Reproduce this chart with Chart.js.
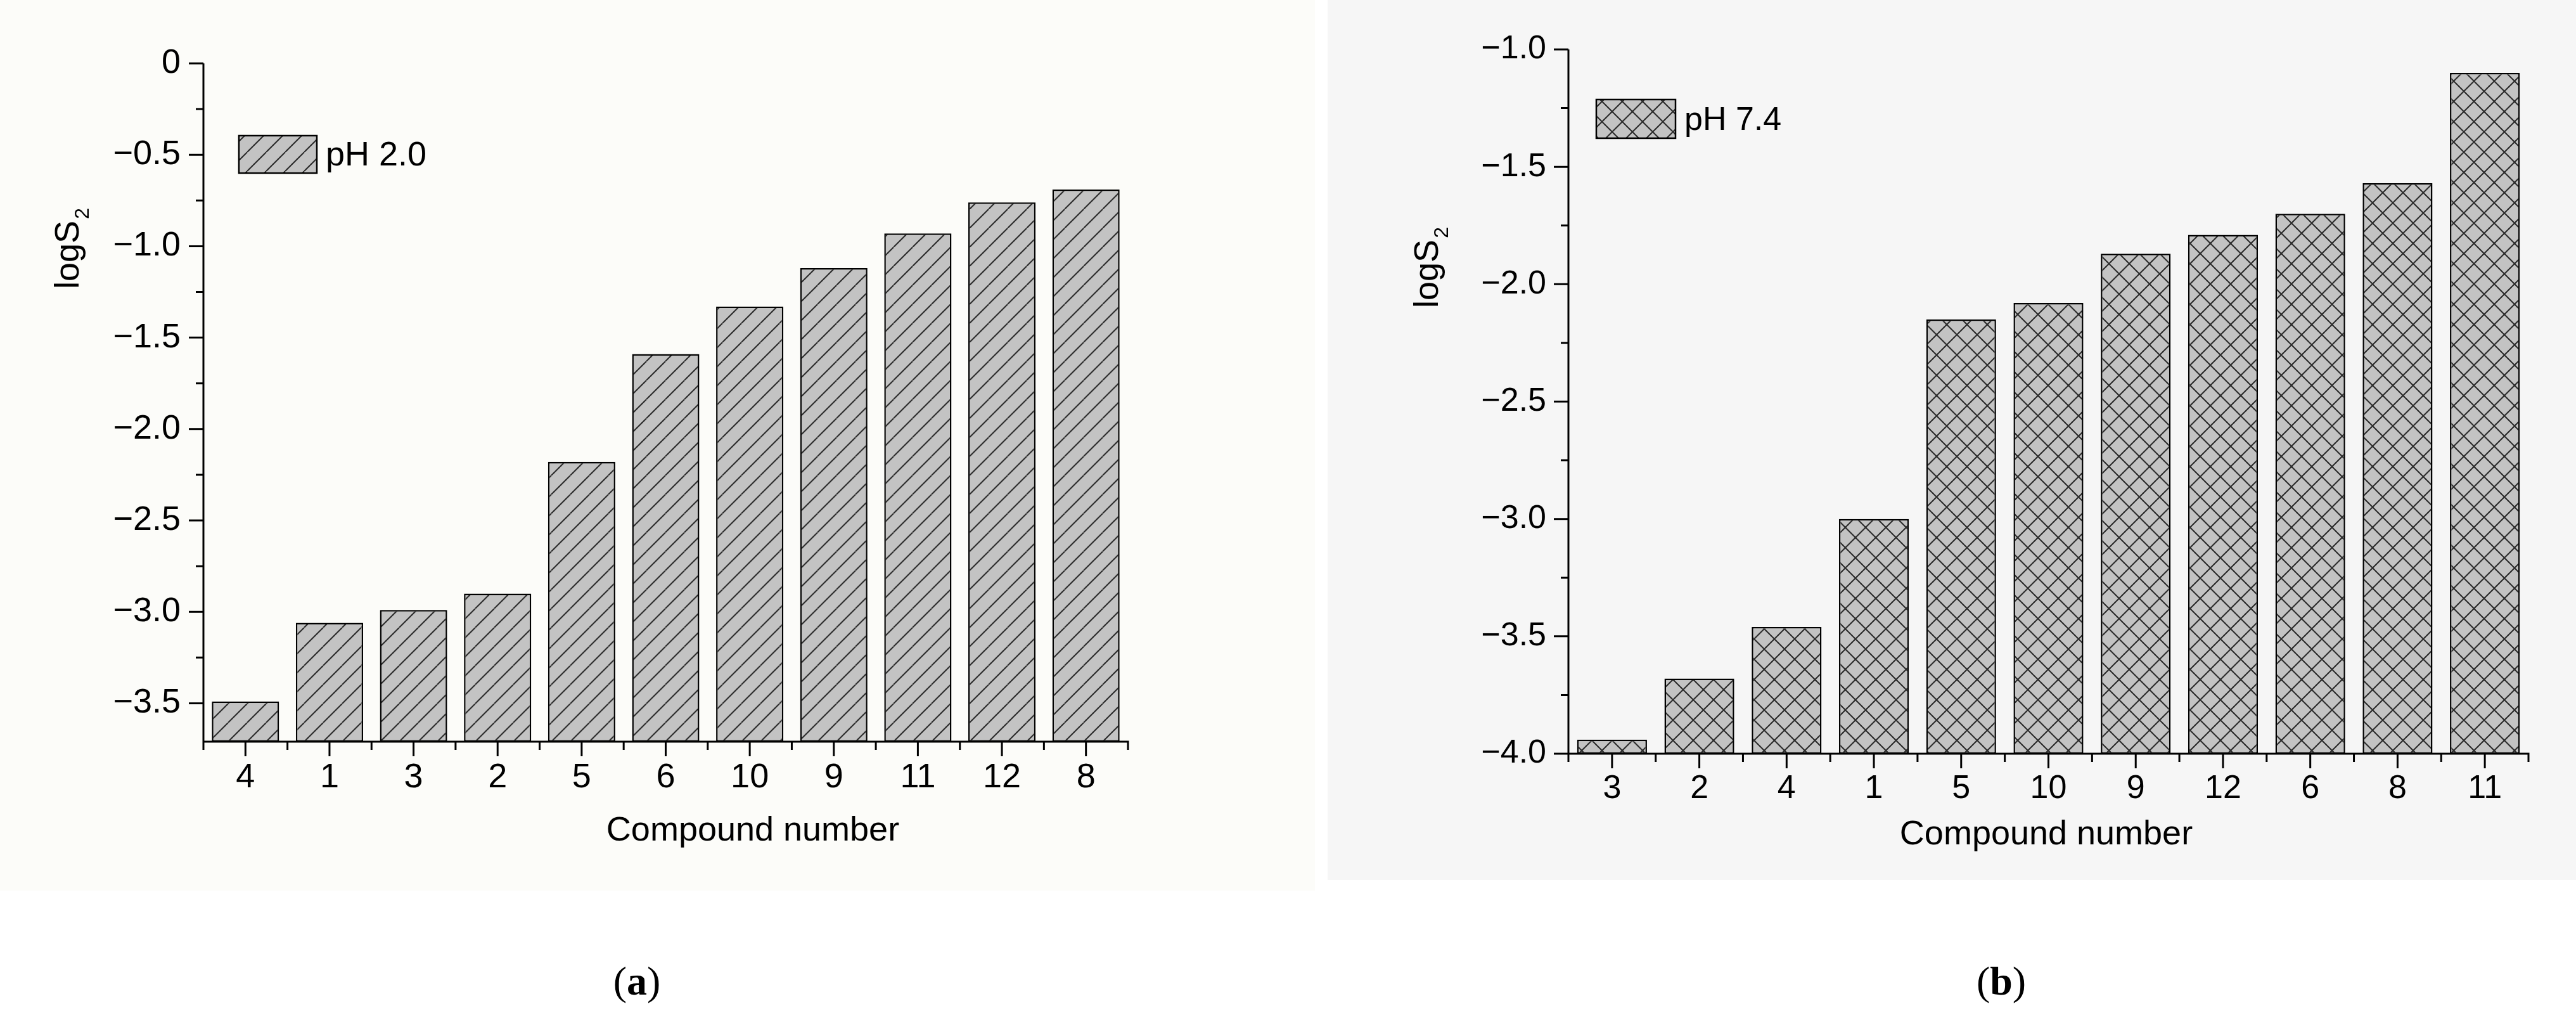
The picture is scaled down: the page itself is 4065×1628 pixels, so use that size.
<!DOCTYPE html>
<html><head><meta charset="utf-8">
<script src="https://cdn.jsdelivr.net/npm/chart.js@4.4.1/dist/chart.umd.min.js"></script>
<style>
html,body{margin:0;padding:0;background:#fff;width:4065px;height:1628px;overflow:hidden;}
canvas{position:absolute;top:0;}
#ca{left:0;} #cb{left:2080px;}
</style></head><body>
<canvas id="ca" width="2080" height="1628"></canvas>
<canvas id="cb" width="1985" height="1628"></canvas>
<script>
// ---- data: panel (a) pH 2.0 ----
const compoundsA = ['4','1','3','2','5','6','10','9','11','12','8'];
const logS2pH20 = [-3.49,-3.06,-2.99,-2.90,-2.18,-1.59,-1.33,-1.12,-0.93,-0.76,-0.69];
const yTicksA = [0,-0.5,-1.0,-1.5,-2.0,-2.5,-3.0,-3.5];
const yRangeA = [-3.71, 0];
// ---- data: panel (b) pH 7.4 ----
const compoundsB = ['3','2','4','1','5','10','9','12','6','8','11'];
const logS2pH74 = [-3.94,-3.68,-3.46,-3.00,-2.15,-2.08,-1.87,-1.79,-1.70,-1.57,-1.10];
const yTicksB = [-1.0,-1.5,-2.0,-2.5,-3.0,-3.5,-4.0];
const yRangeB = [-4.0, -1.0];

const SANS = '"Liberation Sans", Arial, sans-serif';
const SERIF = '"Liberation Serif", "Times New Roman", serif';

function makePattern(ctx, kind) {
  const s = kind === 'cross' ? 32 : 30;
  const c = document.createElement('canvas'); c.width = s; c.height = s;
  const g = c.getContext('2d');
  g.fillStyle = '#c3c3c3'; g.fillRect(0, 0, s, s);
  g.strokeStyle = '#2a2a2a'; g.lineWidth = 2;
  g.beginPath();
  for (let k = -1; k <= 1; k++) { g.moveTo(k * s, s); g.lineTo(k * s + s, 0); }
  if (kind === 'cross') for (let k = -1; k <= 1; k++) { g.moveTo(k * s, 0); g.lineTo(k * s + s, s); }
  g.stroke();
  return ctx.createPattern(c, 'repeat');
}

function fmtTick(v) { return Math.abs(v) < 1e-9 ? '0' : '\u2212' + Math.abs(v).toFixed(1); }

function build(id, P) {
  const canvas = document.getElementById(id);
  const ctx = canvas.getContext('2d');
  const W = canvas.width, H = canvas.height;
  const pattern = makePattern(ctx, P.kind);

  const decor = {
    id: 'decor',
    beforeDraw(chart) {
      const c = chart.ctx;
      c.save();
      c.fillStyle = P.bg; c.fillRect(P.bgRect[0], P.bgRect[1], P.bgRect[2], P.bgRect[3]);
      c.restore();
    },
    afterDatasetsDraw(chart) {
      const c = chart.ctx, a = chart.chartArea;
      const xs = chart.scales.x, ys = chart.scales.y;
      c.save();
      c.strokeStyle = '#000'; c.lineWidth = 3; c.lineCap = 'butt';
      c.beginPath();
      c.moveTo(a.left, a.top); c.lineTo(a.left, a.bottom);
      c.moveTo(a.left - 1.5, a.bottom); c.lineTo(a.right + 1.5, a.bottom);
      P.yTicks.forEach(v => { const y = ys.getPixelForValue(v); c.moveTo(a.left - 23, y); c.lineTo(a.left, y); });
      for (let i = 0; i + 1 < P.yTicks.length; i++) {
        const y = ys.getPixelForValue((P.yTicks[i] + P.yTicks[i + 1]) / 2);
        c.moveTo(a.left - 12, y); c.lineTo(a.left, y);
      }
      const n = P.labels.length;
      const half = (xs.getPixelForValue(1) - xs.getPixelForValue(0)) / 2;
      for (let i = 0; i < n; i++) {
        const x = xs.getPixelForValue(i);
        c.moveTo(x, a.bottom); c.lineTo(x, a.bottom + 23);
      }
      for (let i = 0; i <= n; i++) {
        const x = xs.getPixelForValue(0) - half + i * 2 * half;
        c.moveTo(x, a.bottom); c.lineTo(x, a.bottom + 13);
      }
      c.stroke();

      // legend
      const L = P.legend;
      c.fillStyle = pattern; c.fillRect(L.x, L.y, L.w, L.h);
      c.lineWidth = 2.5; c.strokeRect(L.x, L.y, L.w, L.h);
      c.fillStyle = '#000'; c.font = P.legendFont + 'px ' + SANS;
      c.textAlign = 'left'; c.textBaseline = 'middle';
      c.fillText(P.seriesName, L.x + L.w + 14, L.y + L.h / 2 + 3);

      // y title logS2 (rotated)
      c.save();
      c.translate(P.yTitle.x, P.yTitle.y); c.rotate(-Math.PI / 2);
      c.font = P.titleFont + 'px ' + SANS;
      const w1 = c.measureText('logS').width;
      c.font = Math.round(P.titleFont * 0.6) + 'px ' + SANS;
      const w2 = c.measureText('2').width;
      const x0 = -(w1 + w2) / 2;
      c.textAlign = 'left'; c.textBaseline = 'alphabetic';
      c.font = P.titleFont + 'px ' + SANS;
      c.fillText('logS', x0, P.titleFont * 0.36);
      c.font = Math.round(P.titleFont * 0.6) + 'px ' + SANS;
      c.fillText('2', x0 + w1 + 2, P.titleFont * 0.36 + P.titleFont * 0.28);
      c.restore();

      // x title
      c.font = P.titleFont + 'px ' + SANS; c.textAlign = 'center'; c.textBaseline = 'middle';
      c.fillText('Compound number', P.xTitle.x, P.xTitle.y);

      // panel tag (a)/(b)
      c.font = P.tagFont + 'px ' + SERIF;
      const wp1 = c.measureText('(').width, wp3 = c.measureText(')').width;
      c.font = 'bold ' + P.tagFont + 'px ' + SERIF;
      const wp2 = c.measureText(P.tag).width;
      let tx = P.tagPos.x - (wp1 + wp2 + wp3) / 2;
      c.textAlign = 'left'; c.textBaseline = 'middle';
      c.font = P.tagFont + 'px ' + SERIF; c.fillText('(', tx, P.tagPos.y); tx += wp1;
      c.font = 'bold ' + P.tagFont + 'px ' + SERIF; c.fillText(P.tag, tx, P.tagPos.y); tx += wp2;
      c.font = P.tagFont + 'px ' + SERIF; c.fillText(')', tx, P.tagPos.y);
      c.restore();
    }
  };

  return new Chart(ctx, {
    type: 'bar',
    data: {
      labels: P.labels,
      datasets: [{
        label: P.seriesName,
        data: P.values,
        base: P.yRange[0],
        backgroundColor: pattern,
        borderColor: '#000',
        borderWidth: 2.5,
        borderSkipped: false,
        barPercentage: 0.8,
        categoryPercentage: 1.0
      }]
    },
    options: {
      responsive: false, animation: false, devicePixelRatio: 1,
      layout: { padding: { left: 0, top: P.area.top, right: W - P.area.right, bottom: 0 } },
      plugins: { legend: { display: false }, tooltip: { enabled: false } },
      scales: {
        x: {
          type: 'category', offset: true,
          grid: { display: false, drawTicks: false }, border: { display: false },
          ticks: { color: '#000', font: { size: P.tickFont, family: SANS }, padding: P.xPad, maxRotation: 0, autoSkip: false },
          afterFit(s) { s.height = H - P.area.bottom; }
        },
        y: {
          type: 'linear', min: P.yRange[0], max: P.yRange[1],
          grid: { display: false, drawTicks: false }, border: { display: false },
          afterBuildTicks(s) { s.ticks = P.yTicks.map(v => ({ value: v })); },
          ticks: { color: '#000', font: { size: P.tickFont, family: SANS }, padding: P.yPad, callback: fmtTick, autoSkip: false },
          afterFit(s) { s.width = P.area.left; }
        }
      }
    },
    plugins: [decor]
  });
}

build('ca', {
  kind: 'diag', labels: compoundsA, values: logS2pH20, yTicks: yTicksA, yRange: yRangeA,
  seriesName: 'pH 2.0', tag: 'a',
  area: { left: 321, top: 100, right: 1780, bottom: 1170 },
  bg: '#fcfcf9', bgRect: [0, 0, 2075, 1405],
  tickFont: 54, titleFont: 54, legendFont: 54, tagFont: 64,
  xPad: 25, yPad: 36,
  legend: { x: 377, y: 214, w: 123, h: 59 },
  yTitle: { x: 105, y: 393 }, xTitle: { x: 1188, y: 1311 }, tagPos: { x: 1005, y: 1552 }
});

build('cb', {
  kind: 'cross', labels: compoundsB, values: logS2pH74, yTicks: yTicksB, yRange: yRangeB,
  seriesName: 'pH 7.4', tag: 'b',
  area: { left: 395, top: 78, right: 1910, bottom: 1189 },
  bg: '#f6f6f6', bgRect: [15, 0, 1970, 1388],
  tickFont: 52, titleFont: 54, legendFont: 52, tagFont: 64,
  xPad: 24, yPad: 35,
  legend: { x: 439, y: 157, w: 125, h: 61 },
  yTitle: { x: 170, y: 423 }, xTitle: { x: 1149, y: 1317 }, tagPos: { x: 1078, y: 1552 }
});
</script>
</body></html>
